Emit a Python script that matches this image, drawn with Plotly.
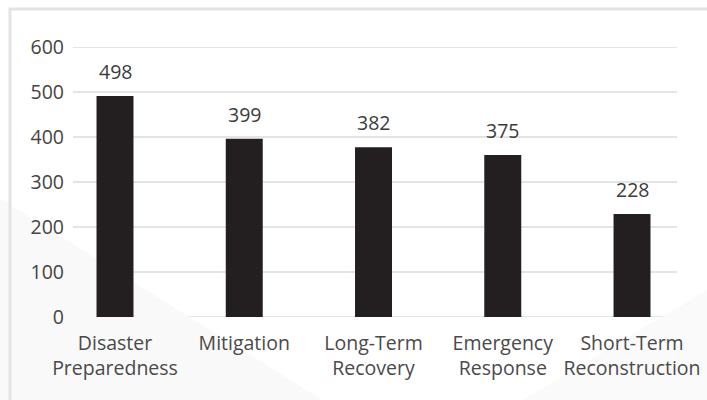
import plotly.graph_objects as go

categories = ["Disaster<br>Preparedness", "Mitigation", "Long-Term<br>Recovery",
              "Emergency<br>Response", "Short-Term<br>Reconstruction"]
bar_values = [491, 396, 377, 360, 229]
label_values = ["498", "399", "382", "375", "228"]
y_ticks = [0, 100, 200, 300, 400, 500, 600]

FONT = "Open Sans"
FS = 19.5
fig = go.Figure()
fig.add_trace(go.Bar(
    x=categories, y=bar_values, width=0.286,
    marker=dict(color="#231f20", line=dict(width=0)),
    hoverinfo="skip",
))

for c, v, t in zip(categories, bar_values, label_values):
    fig.add_annotation(x=c, y=v, text=t, showarrow=False, yanchor="bottom",
                       yshift=9, font=dict(family=FONT, size=FS, color="#3c3c3c"))

# gridlines limited to plot area
for t in y_ticks:
    fig.add_shape(type="line", xref="paper", yref="y", x0=0, x1=1, y0=t, y1=t,
                  line=dict(color="#e4e4e4", width=2), layer="below")

# faint background bands
fig.add_shape(type="path", xref="paper", yref="paper",
              path="M -0.2 -0.5 L -0.2 0.55 L 0.55 -0.5 Z",
              fillcolor="#f9f9f9", line=dict(width=0), layer="below")
fig.add_shape(type="path", xref="paper", yref="paper",
              path="M 0.6 -0.5 L 1.2 0.3 L 1.2 -0.5 Z",
              fillcolor="#fafafa", line=dict(width=0), layer="below")

# border (top & left)
fig.add_shape(type="rect", xref="paper", yref="paper",
              x0=-0.1043, x1=1.5, y0=-1.0, y1=1.1407,
              line=dict(color="#e3e3e3", width=3), fillcolor="rgba(0,0,0,0)")

fig.update_layout(
    width=707, height=400,
    margin=dict(l=73, r=30, t=47, b=83, autoexpand=False),
    paper_bgcolor="#ffffff", plot_bgcolor="rgba(0,0,0,0)",
    showlegend=False,
    font=dict(family=FONT, size=FS, color="#444444"),
    xaxis=dict(type="category", range=[-0.325, 4.348], showgrid=False,
               zeroline=False, showline=False, ticks="", automargin=False,
               ticklabelstandoff=12,
               tickfont=dict(family=FONT, size=FS, color="#4a4a4a")),
    yaxis=dict(range=[0, 600], tickvals=y_ticks, showgrid=False,
               zeroline=False, showline=False, ticks="", automargin=False,
               ticklabelstandoff=8,
               tickfont=dict(family=FONT, size=FS, color="#444444")),
)

fig.write_html("out.html", config={"displayModeBar": False},
               post_script="document.body.style.margin='0';")
